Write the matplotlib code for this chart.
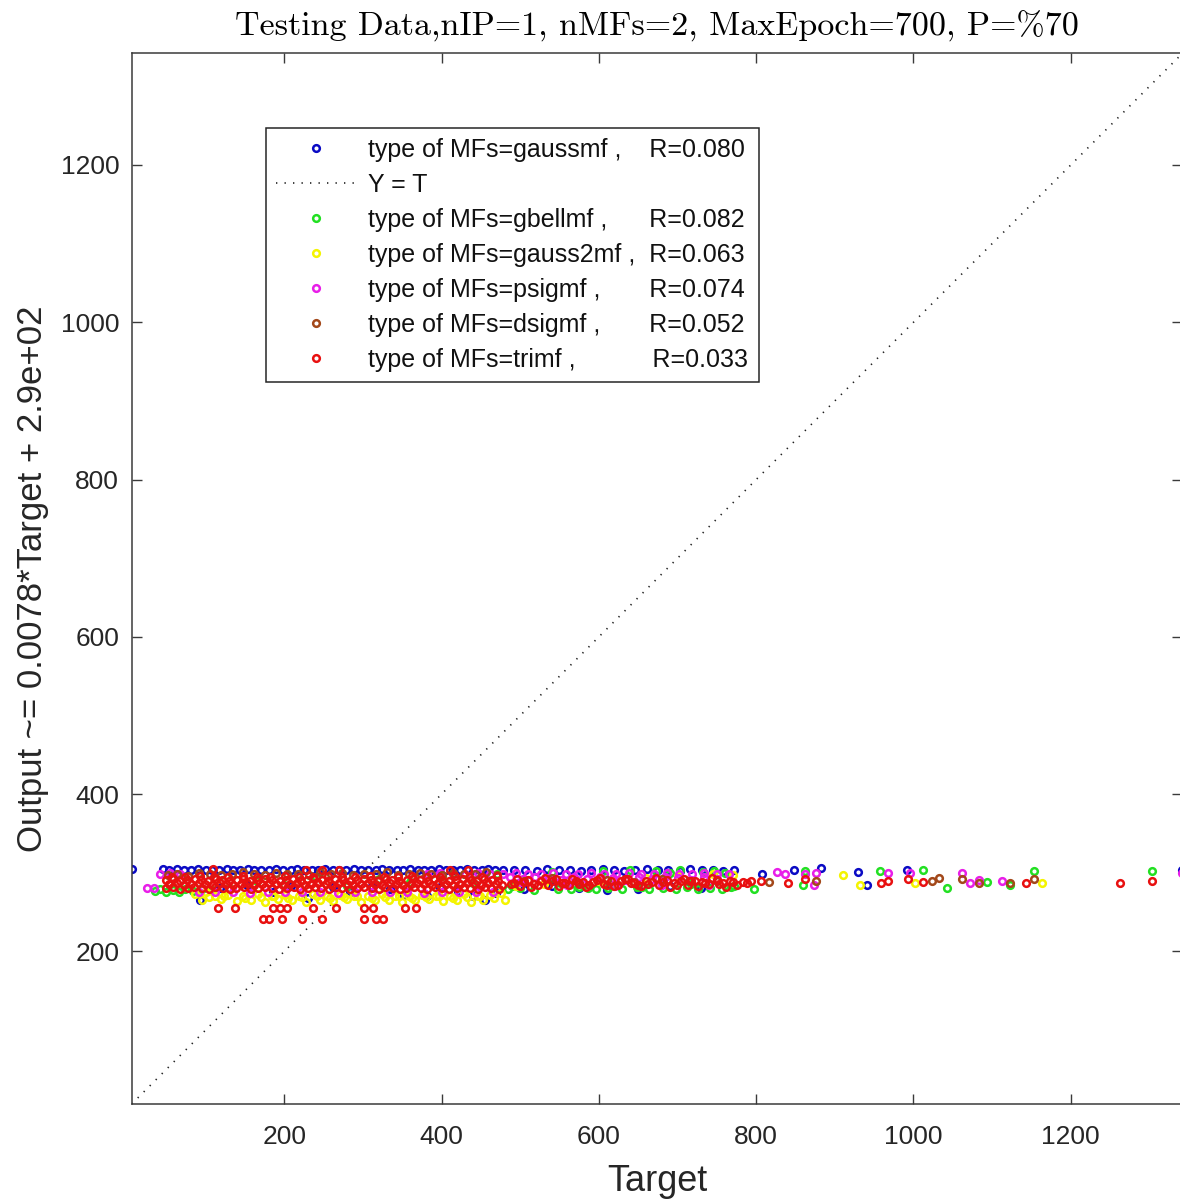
import matplotlib
matplotlib.use("Agg")
import matplotlib.pyplot as plt

plt.rcParams['font.family'] = ['Liberation Sans', 'DejaVu Sans']

# --- series: target (x) vs. network output (y) for each membership function type ---

# gaussmf
gauss_x = [46, 54, 63, 73, 81, 90, 100, 108, 117, 127,
           135, 144, 154, 162, 171, 181, 189, 198, 208, 216,
           225, 235, 243, 252, 262, 270, 279, 289, 297, 306,
           316, 324, 333, 343, 351, 360, 370, 378, 387, 397,
           405, 414, 424, 432, 441, 451, 459, 468, 478,
           492, 506, 521, 534, 549, 563, 577, 590, 605, 619,
           632, 646, 661, 675, 688, 703, 716, 731, 745, 758, 772,
           93, 118, 152, 186, 208, 230, 262, 283, 311, 334,
           352, 381, 398, 421, 440, 455, 469, 505, 540, 575,
           610, 650, 690, 730,
           6, 808, 848, 883, 929, 941, 992, 1341]
gauss_y = [305, 304, 305, 303, 304, 305, 303, 304, 304, 305,
           303, 304, 305, 304, 303, 304, 305, 304, 303, 305,
           304, 304, 303, 305, 304, 303, 304, 305, 304, 303,
           304, 305, 304, 304, 303, 305, 304, 303, 304, 305,
           304, 303, 304, 305, 304, 303, 305, 304, 303,
           303, 304, 302, 305, 303, 304, 302, 304, 305, 303,
           302, 304, 305, 303, 304, 302, 305, 303, 304, 302, 303,
           266, 281, 284, 275, 283, 268, 282, 276, 283, 279,
           272, 270, 282, 277, 271, 266, 274, 279, 283, 281,
           278, 279, 283, 281,
           305, 299, 304, 306, 301, 285, 304, 304]

# gbellmf
gbell_x = [36, 42, 50, 58, 66, 74, 84, 96, 108, 130,
           165, 200, 240, 280, 320, 360, 400, 440, 470, 490,
           517, 540, 564, 586, 605, 620, 640, 655, 672, 690,
           703, 717, 732, 746, 760, 772, 797, 860, 862, 958,
           1012, 1043, 1093, 1123, 1153, 1303,
           484, 500, 548, 575, 596, 612, 630, 648, 664, 681,
           698, 712, 726, 741, 756, 768]
gbell_y = [277, 279, 276, 278, 276, 279, 277, 280, 278, 281,
           290, 285, 295, 283, 292, 288, 296, 287, 299, 283,
           278, 301, 279, 281, 302, 285, 303, 282, 302, 300,
           303, 286, 301, 302, 300, 283, 280, 285, 302, 302,
           303, 281, 288, 285, 302, 302,
           280, 281, 279, 282, 280, 281, 279, 282, 280, 281,
           279, 282, 280, 281, 279, 282]

# gauss2mf
gauss2_x = [95, 120, 140, 158, 175, 192, 210, 228, 246, 262,
            280, 297, 315, 333, 350, 366, 384, 402, 420, 437, 453, 481,
            86, 100, 112, 128, 148, 166, 184, 201, 219, 237,
            254, 271, 289, 306, 324, 341, 358, 375, 393, 411,
            428, 446, 462, 476,
            104, 124, 150, 170, 187, 205, 223, 241, 258, 276,
            293, 311, 328, 346, 362, 380, 397, 415, 432, 449, 467,
            495, 530, 600, 660, 700, 745, 770, 911, 932, 1002, 1163]
gauss2_y = [265, 267, 264, 266, 263, 267, 265, 263, 266, 264,
            267, 263, 265, 266, 263, 265, 267, 264, 266, 263, 265, 266,
            273, 275, 271, 272, 270, 273, 270, 272, 271, 273,
            270, 272, 271, 270, 273, 271, 270, 272, 271, 270,
            273, 271, 272, 274,
            269, 270, 268, 269, 270, 268, 269, 270, 268, 269,
            270, 268, 269, 270, 268, 269, 270, 268, 269, 270, 268,
            283, 286, 290, 293, 296, 299, 297, 297, 285, 287, 287]

# psigmf
psig_x = [25, 34, 42, 55, 67,
          92, 112, 135, 157, 179, 201, 223, 245, 268, 290,
          312, 334, 356, 378, 400, 422, 444, 466,
          382, 398, 414, 430, 446, 462, 478, 494, 510, 526,
          542, 558, 574, 590, 606, 622, 638, 654, 670, 686,
          702, 718, 734, 750, 766,
          500, 560, 620, 680, 740,
          487, 503, 519, 536, 552, 569, 585, 602, 618, 635,
          651, 668, 684, 701, 717, 734, 750,
          827, 837, 862, 874, 876, 968, 996, 1062, 1072, 1083, 1113, 1341]
psig_y = [281, 281, 299, 300, 298,
          276, 275, 276, 274, 276, 275, 276, 275, 274, 276,
          275, 276, 275, 274, 276, 275, 276, 275,
          299, 300, 298, 299, 300, 298, 299, 300, 299, 298,
          300, 299, 298, 300, 299, 298, 300, 299, 298, 300,
          299, 298, 300, 299, 298,
          288, 284, 283, 285, 284,
          294, 292, 295, 293, 291, 294, 292, 295, 293, 291,
          294, 292, 295, 293, 291, 294, 292,
          301, 299, 299, 284, 300, 300, 300, 300, 287, 291, 289, 300]

# dsigmf
dsig_x = [52, 64, 78, 92, 106, 120, 134, 148, 162, 176,
          190, 204, 218, 232, 246, 260, 274, 288, 302, 316,
          330, 344, 358, 372, 386, 400, 414, 428, 442, 456, 470,
          505, 540, 575, 610, 645, 680, 715, 750,
          816, 876, 1023, 1033, 1062, 1083, 1123, 1153]
dsig_y = [297, 299, 296, 300, 298, 297, 299, 301, 298, 297,
          300, 298, 299, 297, 301, 298, 300, 297, 299, 298,
          301, 297, 299, 300, 298, 297, 300, 299, 298, 301, 297,
          289, 293, 287, 291, 288, 292, 289, 290,
          288, 290, 289, 293, 292, 287, 287, 292]

# trimf
tri_x = [50, 58, 68, 77, 85, 95, 104, 112, 122, 131, 139, 149,
         158, 166, 176, 185, 193, 203, 212, 220, 230, 239, 247, 257,
         266, 274, 284, 293, 301, 311, 320, 328, 338, 347, 355, 365,
         374, 382, 392, 401, 409, 419, 428, 436, 446, 455, 463, 473,
         54, 64, 72, 81, 91, 99, 108, 118, 126, 135, 145, 153,
         162, 172, 180, 189, 199, 207, 216, 226, 234, 243, 253, 261,
         270, 280, 288, 297, 307, 315, 324, 334, 342, 351, 361, 369,
         378, 388, 396, 405, 415, 423, 432, 442, 450, 459, 469, 477,
         49, 59, 67, 76, 86, 94, 103, 113, 121, 130, 140, 148,
         157, 167, 175, 184, 194, 202, 211, 221, 229, 238, 248, 256,
         265, 275, 283, 292, 302, 310, 319, 329, 337, 346, 356, 364,
         373, 383, 391, 400, 410, 418, 427, 437, 445, 454, 464, 472,
         57, 74, 93, 111, 128, 147, 165, 182, 201, 219, 236, 255,
         273, 290, 309, 327, 344, 363, 381, 398, 417, 435, 452, 471,
         492, 500, 510, 518, 527, 535, 545, 553, 562, 571,
         580, 588, 597, 606, 615, 624, 633, 641, 650, 660,
         668, 677, 686, 695, 704, 713, 722, 731, 740, 750,
         758, 767, 775, 783, 793,
         496, 514, 531, 549, 566, 584, 601, 619, 637, 654,
         672, 690, 708, 726, 744, 762,
         488, 505, 522, 540, 557, 575, 592, 610, 628, 645,
         663, 681, 699, 717, 735, 753, 771, 788,
         116, 137, 186, 195, 204, 236, 266, 301, 313, 354, 367,
         173, 180, 197, 223, 248, 301, 316, 326,
         110, 228, 248, 270, 411, 433,
         806, 840, 862, 959, 968, 993, 1012, 1143, 1263, 1303]
tri_y = [281, 282, 280, 281, 282, 281, 280, 282, 281, 280, 281, 282,
         280, 281, 282, 281, 280, 281, 282, 280, 281, 282, 281, 280,
         282, 281, 280, 281, 282, 281, 280, 282, 281, 280, 281, 282,
         281, 280, 282, 281, 280, 281, 282, 281, 280, 282, 281, 280,
         286, 287, 285, 286, 287, 286, 285, 287, 286, 285, 286, 287,
         285, 286, 287, 286, 285, 286, 287, 285, 286, 287, 286, 285,
         287, 286, 285, 286, 287, 286, 285, 287, 286, 285, 286, 287,
         286, 285, 287, 286, 285, 286, 287, 286, 285, 287, 286, 285,
         291, 292, 290, 291, 292, 291, 290, 292, 291, 290, 291, 292,
         290, 291, 292, 291, 290, 291, 292, 290, 291, 292, 291, 290,
         292, 291, 290, 291, 292, 291, 290, 292, 291, 290, 291, 292,
         291, 290, 292, 291, 290, 291, 292, 291, 290, 292, 291, 290,
         295, 294, 296, 295, 294, 296, 295, 294, 296, 295, 294, 296,
         295, 294, 296, 295, 294, 296, 295, 294, 296, 295, 294, 296,
         287, 283, 291, 286, 289, 284, 292, 287, 285, 290,
         288, 284, 291, 286, 289, 285, 292, 287, 284, 290,
         288, 285, 291, 287, 289, 284, 290, 288, 286, 291,
         287, 289, 285, 288, 290,
         292, 282, 293, 283, 292, 282, 293, 283, 292, 283,
         293, 282, 292, 283, 293, 282,
         286, 288, 285, 289, 287, 286, 288, 285, 289, 287,
         286, 288, 285, 289, 287, 286, 288, 287,
         255, 255, 255, 255, 255, 255, 255, 255, 255, 255, 255,
         241, 241, 241, 241, 241, 241, 241, 241,
         305, 303, 303, 303, 304, 304,
         290, 287, 292, 287, 289, 292, 288, 287, 287, 289]

series = [
    (gauss_x, gauss_y, '#0a0ac4', 'type of MFs=gaussmf ,    R=0.080'),
    (gbell_x, gbell_y, '#22e022', 'type of MFs=gbellmf ,      R=0.082'),
    (gauss2_x, gauss2_y, '#f4f400', 'type of MFs=gauss2mf ,  R=0.063'),
    (psig_x, psig_y, '#e81ee8', 'type of MFs=psigmf ,       R=0.074'),
    (dsig_x, dsig_y, '#a3481a', 'type of MFs=dsigmf ,       R=0.052'),
    (tri_x, tri_y, '#e81010', 'type of MFs=trimf ,           R=0.033'),
]

lims = [6, 1342]

fig = plt.figure(figsize=(11.8, 12.03), dpi=100)
ax = fig.add_axes([0.1116, 0.0823, 0.8905, 0.8734])

mk = dict(linestyle='none', marker='o', markerfacecolor='none', markersize=4.8, markeredgewidth=1.8)

for i, (xs, ys, col, lab) in enumerate(series):
    ax.plot(xs, ys, markeredgecolor=col, label=lab, **mk)
    if i == 0:
        # identity line drawn right after the first series so it sits second in the legend
        ax.plot(lims, lims, color='#202020', linestyle=(0, (0.8, 4.3)), linewidth=1.2, label='Y = T')

ax.set_xlim(lims)
ax.set_ylim(lims)
ax.set_xticks([200, 400, 600, 800, 1000, 1200])
ax.set_yticks([200, 400, 600, 800, 1000, 1200])

axcol = '#3a3a3a'
for s in ax.spines.values():
    s.set_color(axcol)
    s.set_linewidth(1.1)
ax.tick_params(direction='in', length=7.5, width=1.0, color=axcol, labelcolor='#262626',
               labelsize=19, top=True, right=True)
ax.tick_params(axis='x', pad=15)
ax.tick_params(axis='y', pad=9)

ax.set_xlabel('Target', fontsize=26, color='#262626', labelpad=11)
ax.set_ylabel('Output ~= 0.0078*Target + 2.9e+02', fontsize=25, color='#262626', labelpad=8)
ax.set_title('Testing Data,nIP=1, nMFs=2, MaxEpoch=700, P=%70',
             family=['cmr10', 'DejaVu Serif'], fontsize=24.5, pad=13)

leg = ax.legend(loc='upper left', bbox_to_anchor=(266 / 1180, 1 - 128 / 1203),
                bbox_transform=fig.transFigure, borderaxespad=0, fontsize=18,
                fancybox=False, framealpha=1, edgecolor='#262626',
                handlelength=3.2, handletextpad=0.5, borderpad=0.4, labelspacing=0.44)
leg.get_frame().set_linewidth(1.1)
for t in leg.get_texts():
    t.set_color('#111111')

fig.savefig('out.png', dpi=100)
